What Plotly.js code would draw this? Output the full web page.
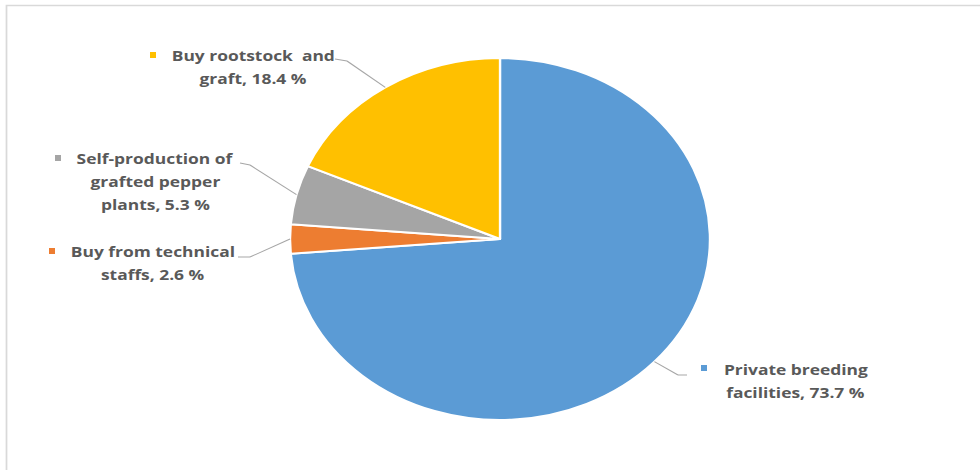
<!DOCTYPE html>
<html>
<head>
<meta charset="utf-8">
<script src="https://cdn.plot.ly/plotly-3.0.1.min.js"></script>
<style>
  html, body { margin: 0; padding: 0; background: #ffffff; overflow: hidden; }
  #wrap { width: 980px; height: 470px; overflow: hidden; position: relative; }
  #chart { width: 845px; height: 470px; transform: scaleX(1.16); transform-origin: 0 0; }
</style>
</head>
<body>
<div id="wrap"><div id="chart"></div></div>
<script>
// ---- data ----
const categories = ['Private breeding facilities', 'Buy from technical staffs', 'Self-production of grafted pepper plants', 'Buy rootstock and graft'];
const shares = [73.7, 2.6, 5.3, 18.4];
const labelLines = [
  ['Private breeding', 'facilities, 73.7 %'],
  ['Buy from technical', 'staffs, 2.6 %'],
  ['Self-production of', 'grafted pepper', 'plants, 5.3 %'],
  ['Buy rootstock  and', 'graft, 18.4 %']
];
const colors = ['#5B9BD5', '#ED7D31', '#A5A5A5', '#FFC000'];

// ---- layout constants (reference pixel coordinates) ----
const SX = 1.16;            // horizontal stretch of the reference
const W = 845, H = 470;     // unstretched plot size
const CX = 500 / SX, CY = 239, R = 181;
const labelPos = [[796, 369], [153, 251], [155, 158], [253, 55]];
const lineGap = 23;
const squarePos = [[704, 368], [52, 251], [58, 158], [153, 55]];
const leaderPts = [
  [[678, 375], [687, 375]],
  [[250, 257], [238, 257]],
  [[250, 165], [240, 163]],
  [[347, 61], [335, 59]]
];

const px = x => x / SX / W;     // stretched px -> paper x
const py = y => 1 - y / H;      // px -> paper y
const ux = x => x / W;          // unstretched px -> paper x

// pie domain
const domX = [(CX - R) / W, (CX + R) / W];
const domY = [(H - CY - R) / H, (H - CY + R) / H];

const trace = {
  type: 'pie',
  labels: categories,
  values: shares,
  sort: false,
  direction: 'clockwise',
  rotation: 0,
  textinfo: 'none',
  hoverinfo: 'label+percent',
  marker: { colors: colors, line: { color: '#ffffff', width: 2 } },
  domain: { x: domX, y: domY },
  showlegend: false
};

const total = shares.reduce((a, b) => a + b, 0);
const annotations = [];
const shapes = [];
let cum = 0;
shares.forEach((v, i) => {
  const f = (cum + v / 2) / total;
  cum += v;
  const th = 2 * Math.PI * f;
  const ex = CX + R * Math.sin(th);
  const ey = CY - R * Math.cos(th);
  // leader line
  const pts = [[ux(ex), py(ey)]].concat(leaderPts[i].map(p => [px(p[0]), py(p[1])]));
  for (let k = 0; k < pts.length - 1; k++) {
    shapes.push({ type: 'line', xref: 'paper', yref: 'paper',
      x0: pts[k][0], y0: pts[k][1], x1: pts[k + 1][0], y1: pts[k + 1][1],
      line: { color: '#A6A6A6', width: 1 } });
  }
  // legend key square
  const sq = squarePos[i];
  shapes.push({ type: 'rect', xref: 'paper', yref: 'paper',
    x0: px(sq[0] - 3), x1: px(sq[0] + 3), y0: py(sq[1] - 3), y1: py(sq[1] + 3),
    fillcolor: colors[i], line: { width: 0 } });
  // label lines
  labelLines[i].forEach((t, j) => {
    annotations.push({ xref: 'paper', yref: 'paper',
      x: px(labelPos[i][0]), y: py(labelPos[i][1] + j * lineGap),
      xanchor: 'center', yanchor: 'middle', showarrow: false,
      text: '<b>' + t + '</b>',
      font: { family: 'Open Sans, sans-serif', size: 15, color: '#595959' } });
  });
});

// chart frame
shapes.push({ type: 'rect', xref: 'paper', yref: 'paper',
  x0: px(6.5), x1: 1.2, y0: py(5.5), y1: -0.2,
  line: { color: '#D9D9D9', width: 1.5 }, fillcolor: 'rgba(0,0,0,0)', layer: 'below' });

const layout = {
  width: W, height: H,
  margin: { l: 0, r: 0, t: 0, b: 0 },
  paper_bgcolor: '#ffffff',
  plot_bgcolor: '#ffffff',
  showlegend: false,
  annotations: annotations,
  shapes: shapes
};

Plotly.newPlot('chart', [trace], layout, { displayModeBar: false, staticPlot: true });
</script>
</body>
</html>
